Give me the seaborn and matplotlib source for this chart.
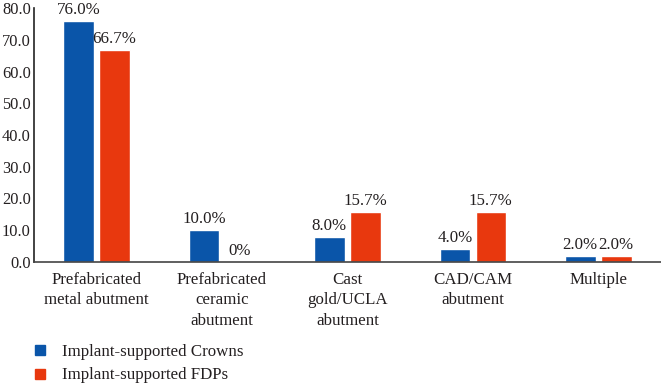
import pandas as pd
import numpy as np
import matplotlib.pyplot as plt
import seaborn as sns

categories = ["Prefabricated\nmetal abutment", "Prefabricated\nceramic\nabutment",
              "Cast\ngold/UCLA\nabutment", "CAD/CAM\nabutment", "Multiple"]
crowns = [76.0, 10.0, 8.0, 4.0, 2.0]
fdps = [66.7, 0.0, 15.7, 15.7, 2.0]
crowns_labels = ["76.0%", "10.0%", "8.0%", "4.0%", "2.0%"]
fdps_labels = ["66.7%", "0%", "15.7%", "15.7%", "2.0%"]
series = ["Implant-supported Crowns", "Implant-supported FDPs"]
colors = ["#0a55a9", "#e8380e"]

df = pd.DataFrame({
    "cat": categories * 2,
    "value": crowns + fdps,
    "group": [series[0]] * 5 + [series[1]] * 5,
})

sns.set_style("white")
plt.rcParams["font.family"] = ["Liberation Serif", "DejaVu Serif"]
FS = 12.2
TXT = "#231f20"

fig = plt.figure(figsize=(6.61, 3.83), dpi=100)
ax = fig.add_axes([0.051, 0.316, 0.949, 0.663])

sns.barplot(data=df, x="cat", y="value", hue="group", palette=colors,
            width=0.573, gap=0.15, ax=ax, legend=False, saturation=1)

for cont, labs in zip(ax.containers, [crowns_labels, fdps_labels]):
    ax.bar_label(cont, labels=labs, padding=2, fontsize=FS, color=TXT)

ax.set_ylim(0, 80)
ax.set_xlim(-0.5, 4.5)
ax.set_yticks(np.arange(0, 81, 10))
ax.set_yticklabels([f"{v:.1f}" for v in np.arange(0, 81, 10)], fontsize=11.8, color=TXT)
ax.tick_params(axis="x", labelsize=FS, labelcolor=TXT, length=0, pad=7)
ax.tick_params(axis="y", length=0, pad=2)
for lab in ax.get_xticklabels():
    lab.set_linespacing(1.38)
ax.set_xlabel("")
ax.set_ylabel("")
for s in ["top", "right"]:
    ax.spines[s].set_visible(False)
ax.spines["left"].set_color("#222222")
ax.spines["bottom"].set_color("#444444")
ax.spines["left"].set_linewidth(1.2)
ax.spines["bottom"].set_linewidth(1.2)

handles = [plt.Line2D([], [], marker="s", linestyle="", markersize=7, color=c) for c in colors]
fig.legend(handles, series, loc="upper left", bbox_to_anchor=(0.04, 0.12),
           frameon=False, fontsize=FS, handlelength=0.8, handletextpad=0.9,
           labelspacing=0.45, borderaxespad=0, labelcolor=TXT)

fig.savefig("out.png", dpi=100)
